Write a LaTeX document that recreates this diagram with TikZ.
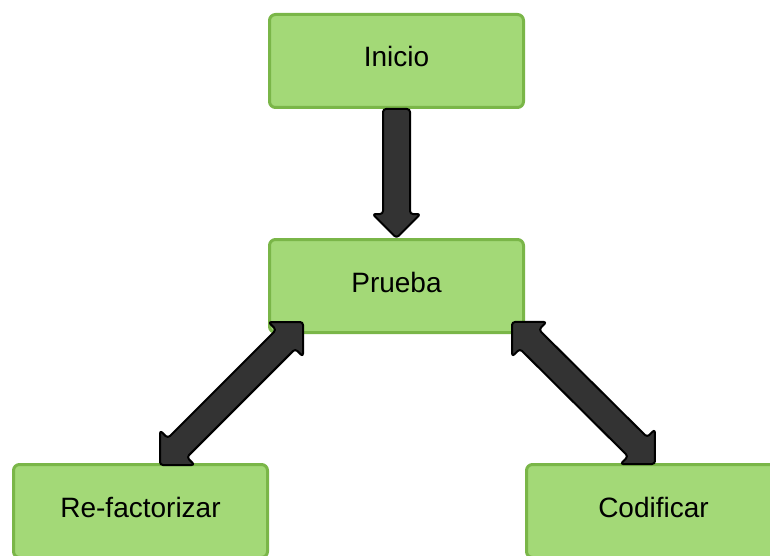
\documentclass[tikz,border=0pt]{standalone}
\usepackage{fontspec}
\setmainfont{Liberation Sans}
\usetikzlibrary{calc}
\definecolor{boxfill}{HTML}{A3D977}
\definecolor{boxline}{HTML}{7AB648}
\definecolor{arrowfill}{HTML}{333333}
\tikzset{
  stepbox/.style={draw=boxline, fill=boxfill, line width=3pt, rounded corners=6pt,
    minimum width=254pt, minimum height=93pt, inner sep=0pt,
    text height=20pt, text depth=8pt, font=\fontsize{28}{34}\selectfont},
  blockarr/.style={draw=black, fill=arrowfill, line width=2pt, rounded corners=3pt, line join=round}
}
\newcommand\blockarrow[3]{%
  \path let \p1=($(#2)-(#1)$) in \pgfextra{%
    \pgfmathsetmacro\baang{atan2(\y1,\x1)}%
    \pgfmathsetmacro\balen{veclen(\x1,\y1)}%
    \xdef\baang{\baang}\xdef\balen{\balen}};
  \begin{scope}[shift={(#1)}, rotate=\baang, x=1pt, y=1pt]
    \ifnum#3=1
      \draw[blockarr] (0,-13.5) -- (\balen-24,-13.5) -- (\balen-24,-24) -- (\balen,0)
        -- (\balen-24,24) -- (\balen-24,13.5) -- (0,13.5) -- cycle;
    \else
      \draw[blockarr] (24.5,-13.5) -- (\balen-24.5,-13.5) -- (\balen-24.5,-24.5) -- (\balen,0)
        -- (\balen-24.5,24.5) -- (\balen-24.5,13.5) -- (24.5,13.5) -- (24.5,24.5)
        -- (0,0) -- (24.5,-24.5) -- cycle;
    \fi
  \end{scope}}
\begin{document}
\begin{tikzpicture}[x=1pt,y=-1pt]
\useasboundingbox (0,0) rectangle (770,556);
\node[stepbox] (inicio) at (396.5,61) {Inicio};
\node[stepbox] (prueba) at (396.5,286) {Prueba};
\node[stepbox] (refac) at (140.5,511) {Re-factorizar};
\node[stepbox] (codif) at (653.5,511) {Codificar};
\coordinate (l1) at (160,465);
\coordinate (l2) at (303,322);
\coordinate (r1) at (512,322);
\coordinate (r2) at (655,464);
\blockarrow{inicio.south}{prueba.north}{1}
\blockarrow{l1}{l2}{2}
\blockarrow{r1}{r2}{2}
\end{tikzpicture}
\end{document}
